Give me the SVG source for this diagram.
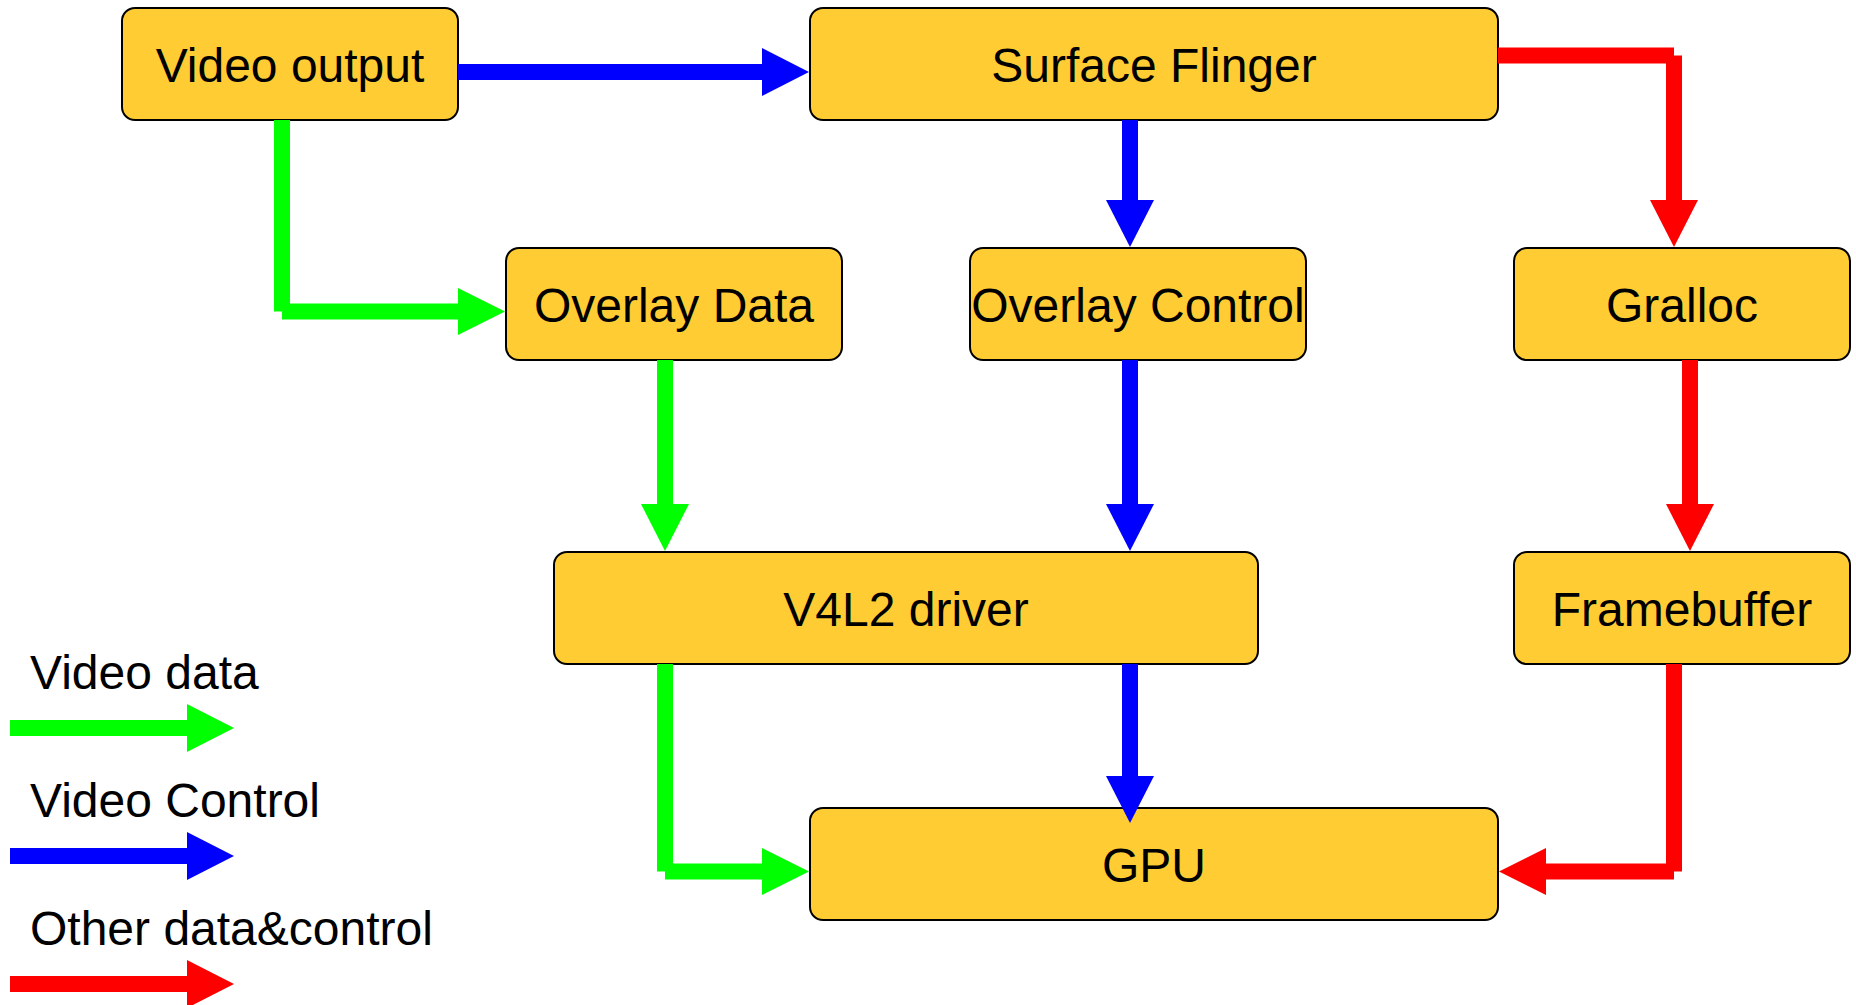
<svg xmlns="http://www.w3.org/2000/svg" width="1856" height="1005" viewBox="0 0 1856 1005">
  <style>
    .box { fill: #FFCC33; stroke: #000000; stroke-width: 2; }
    .label { font-family: "Liberation Sans", Arial, sans-serif; font-size: 48px; fill: #000000; text-anchor: middle; }
    .legend-text { font-family: "Liberation Sans", Arial, sans-serif; font-size: 48px; fill: #000000; }
    .data { stroke: #00FF00; stroke-width: 16; fill: none; stroke-linecap: butt; }
    .ctrl { stroke: #0000FF; stroke-width: 16; fill: none; stroke-linecap: butt; }
    .other { stroke: #FF0000; stroke-width: 16; fill: none; stroke-linecap: butt; }
    .data-head { fill: #00FF00; }
    .ctrl-head { fill: #0000FF; }
    .other-head { fill: #FF0000; }
  </style>
  <rect width="1856" height="1005" fill="#FFFFFF"/>

  <!-- Nodes -->
  <g id="video-output">
    <rect class="box" x="122" y="8" width="336" height="112" rx="13"/>
    <text class="label" x="290" y="82">Video output</text>
  </g>
  <g id="surface-flinger">
    <rect class="box" x="810" y="8" width="688" height="112" rx="13"/>
    <text class="label" x="1154" y="82">Surface Flinger</text>
  </g>
  <g id="overlay-data">
    <rect class="box" x="506" y="248" width="336" height="112" rx="13"/>
    <text class="label" x="674" y="322">Overlay Data</text>
  </g>
  <g id="overlay-control">
    <rect class="box" x="970" y="248" width="336" height="112" rx="13"/>
    <text class="label" x="1138" y="322">Overlay Control</text>
  </g>
  <g id="gralloc">
    <rect class="box" x="1514" y="248" width="336" height="112" rx="13"/>
    <text class="label" x="1682" y="322">Gralloc</text>
  </g>
  <g id="v4l2-driver">
    <rect class="box" x="554" y="552" width="704" height="112" rx="13"/>
    <text class="label" x="906" y="626">V4L2 driver</text>
  </g>
  <g id="framebuffer">
    <rect class="box" x="1514" y="552" width="336" height="112" rx="13"/>
    <text class="label" x="1682" y="626">Framebuffer</text>
  </g>
  <g id="gpu">
    <rect class="box" x="810" y="808" width="688" height="112" rx="13"/>
    <text class="label" x="1154" y="882">GPU</text>
  </g>

  <!-- Connectors: each bend is two butt-ended segments -->
  <g id="connectors">
    <!-- Video output -> Surface Flinger -->
    <line class="ctrl" x1="458" y1="72" x2="763" y2="72"/>
    <polygon class="ctrl-head" points="762,48 809,72 762,96"/>

    <!-- Video output -> Overlay Data -->
    <line class="data" x1="282" y1="120" x2="282" y2="311.5"/>
    <line class="data" x1="282" y1="311.5" x2="459" y2="311.5"/>
    <polygon class="data-head" points="458,288 505,311.5 458,335"/>

    <!-- Surface Flinger -> Overlay Control -->
    <line class="ctrl" x1="1130" y1="120" x2="1130" y2="201"/>
    <polygon class="ctrl-head" points="1106,200 1130,247 1154,200"/>

    <!-- Surface Flinger -> Gralloc -->
    <line class="other" x1="1498" y1="55.5" x2="1674" y2="55.5"/>
    <line class="other" x1="1674" y1="55.5" x2="1674" y2="201"/>
    <polygon class="other-head" points="1650,200 1674,247 1698,200"/>

    <!-- Overlay Data -> V4L2 driver -->
    <line class="data" x1="665" y1="360" x2="665" y2="505"/>
    <polygon class="data-head" points="641,504 665,551 689,504"/>

    <!-- Overlay Control -> V4L2 driver -->
    <line class="ctrl" x1="1130" y1="360" x2="1130" y2="505"/>
    <polygon class="ctrl-head" points="1106,504 1130,551 1154,504"/>

    <!-- Gralloc -> Framebuffer -->
    <line class="other" x1="1690" y1="360" x2="1690" y2="505"/>
    <polygon class="other-head" points="1666,504 1690,551 1714,504"/>

    <!-- V4L2 driver -> GPU (data) -->
    <line class="data" x1="665" y1="664" x2="665" y2="871.5"/>
    <line class="data" x1="665" y1="871.5" x2="763" y2="871.5"/>
    <polygon class="data-head" points="762,848 809,871.5 762,895"/>

    <!-- V4L2 driver -> GPU (control) -->
    <line class="ctrl" x1="1130" y1="664" x2="1130" y2="777"/>
    <polygon class="ctrl-head" points="1106,776 1130,823 1154,776"/>

    <!-- Framebuffer -> GPU -->
    <line class="other" x1="1674" y1="664" x2="1674" y2="871.5"/>
    <line class="other" x1="1674" y1="871.5" x2="1545" y2="871.5"/>
    <polygon class="other-head" points="1546,848 1499,871.5 1546,895"/>
  </g>

  <!-- Legend -->
  <g id="legend">
    <text class="legend-text" x="30" y="689">Video data</text>
    <line class="data" x1="10" y1="728" x2="188" y2="728"/>
    <polygon class="data-head" points="187,704 234,728 187,752"/>

    <text class="legend-text" x="30" y="817">Video Control</text>
    <line class="ctrl" x1="10" y1="856" x2="188" y2="856"/>
    <polygon class="ctrl-head" points="187,832 234,856 187,880"/>

    <text class="legend-text" x="30" y="945">Other data&amp;control</text>
    <line class="other" x1="10" y1="984" x2="188" y2="984"/>
    <polygon class="other-head" points="187,960 234,984 187,1008"/>
  </g>
</svg>
